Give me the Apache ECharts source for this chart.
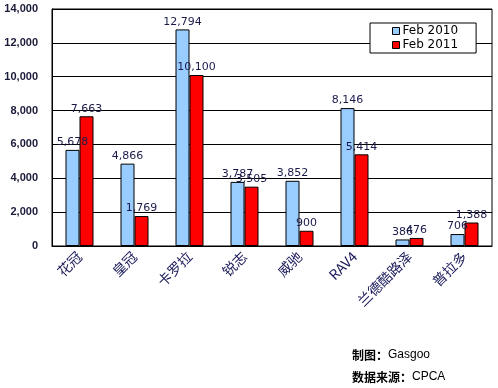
<!doctype html>
<html>
<head>
<meta charset="utf-8">
<script src="https://cdn.jsdelivr.net/npm/echarts@6/dist/echarts.min.js"></script>
<style>
	html, body { margin: 0; padding: 0; background: #fff; }
	#chart { width: 498px; height: 388px; }
</style>
</head>
<body>
<div id="chart"></div>
<script>
	var models = ['花冠', '皇冠', '卡罗拉', '锐志', '威驰', 'RAV4', '兰德酷路泽', '普拉多'];
	var feb2010 = [5678, 4866, 12794, 3787, 3852, 8146, 386, 706];
	var feb2011 = [7663, 1769, 10100, 3505, 900, 5414, 476, 1388];
	var seriesNames = ['Feb 2010', 'Feb 2011'];

	function fmt(v) {
		return String(v).replace(/\B(?=(\d{3})+(?!\d))/g, ',');
	}

	var myChart = echarts.init(document.getElementById('chart'));
	var labelStyle = {
		show: true,
		position: 'top',
		distance: 2,
		color: '#1a1a4a',
		fontFamily: 'DejaVu Sans',
		fontSize: 11,
		formatter: function (p) { return fmt(p.value); }
	};
	var option = {
		animation: false,
		grid: {
			left: 52,
			right: 6,
			top: 9,
			bottom: 142,
			show: true,
			borderColor: '#000',
			borderWidth: 1
		},
		legend: {
			left: 370,
			top: 23,
			width: 107,
			orient: 'vertical',
			itemWidth: 7,
			itemHeight: 7,
			itemGap: 2,
			padding: [2, 18, 2, 22],
			backgroundColor: '#fff',
			borderColor: '#000',
			borderWidth: 1,
			borderRadius: 0,
			textStyle: { fontFamily: 'DejaVu Sans', fontSize: 12, color: '#000', padding: [0, 0, 0, -2] },
			data: seriesNames.map(function (n) {
				return { name: n, icon: 'rect', itemStyle: { borderColor: '#000', borderWidth: 1 } };
			})
		},
		xAxis: {
			type: 'category',
			data: models,
			axisLine: { lineStyle: { color: '#000' } },
			axisTick: { inside: true, length: 5, lineStyle: { color: '#000' } },
			axisLabel: {
				rotate: 45,
				interval: 0,
				margin: 8,
				fontSize: 14,
				color: '#1a1a5a',
				fontFamily: 'Noto Sans CJK SC'
			}
		},
		yAxis: {
			type: 'value',
			min: 0,
			max: 14000,
			interval: 2000,
			axisLine: { show: true, lineStyle: { color: '#000' } },
			axisTick: { show: false },
			splitLine: { lineStyle: { color: '#000', width: 1 } },
			axisLabel: {
				fontWeight: 'bold',
				fontSize: 11,
				color: '#1a1a3a',
				fontFamily: 'Arial, Liberation Sans',
				margin: 14,
				formatter: fmt
			}
		},
		series: [{
			name: seriesNames[0],
			type: 'bar',
			data: feb2010,
			barWidth: 14,
			barGap: '0%',
			itemStyle: { color: '#99ccff', borderColor: '#000', borderWidth: 1 },
			label: labelStyle
		}, {
			name: seriesNames[1],
			type: 'bar',
			data: feb2011,
			barWidth: 14,
			barGap: '0%',
			itemStyle: { color: '#ff0000', borderColor: '#000', borderWidth: 1 },
			label: labelStyle
		}],
		graphic: [{
			type: 'text',
			left: 352,
			top: 349,
			style: {
				text: '{b|制图：}{n|Gasgoo}',
				rich: {
					b: { fontWeight: 'bold', fontSize: 12, fill: '#000', fontFamily: 'Noto Sans CJK SC' },
					n: { fontSize: 12, fill: '#000', fontFamily: 'Arial, Liberation Sans' }
				}
			}
		}, {
			type: 'text',
			left: 352,
			top: 371,
			style: {
				text: '{b|数据来源：}{n|CPCA}',
				rich: {
					b: { fontWeight: 'bold', fontSize: 12, fill: '#000', fontFamily: 'Noto Sans CJK SC' },
					n: { fontSize: 12, fill: '#000', fontFamily: 'Arial, Liberation Sans' }
				}
			}
		}]
	};
	myChart.setOption(option);
</script>
</body>
</html>
